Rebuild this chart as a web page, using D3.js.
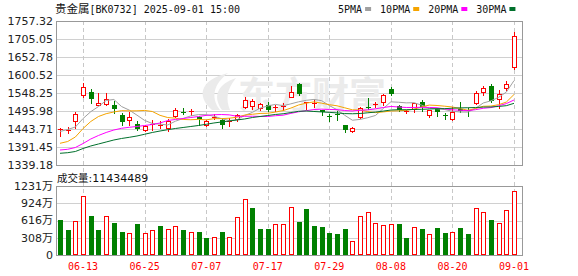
<!DOCTYPE html>
<html>
<head>
<meta charset="utf-8">
<script src="https://cdn.jsdelivr.net/npm/d3@7"></script>
<style>
  body { margin: 0; background: #fff; }
  svg { display: block; }
</style>
</head>
<body>
<svg id="chart" width="578" height="276"></svg>
<script>
// Daily candles, 2025-06-10 .. 2025-09-01
const dates = [
    "06-10", "06-11", "06-12", "06-13", "06-16", "06-17", "06-18", "06-19", "06-20", "06-23",
    "06-24", "06-25", "06-26", "06-27", "06-30", "07-01", "07-02", "07-03", "07-04", "07-07",
    "07-08", "07-09", "07-10", "07-11", "07-14", "07-15", "07-16", "07-17", "07-18", "07-21",
    "07-22", "07-23", "07-24", "07-25", "07-28", "07-29", "07-30", "07-31", "08-01", "08-04",
    "08-05", "08-06", "08-07", "08-08", "08-11", "08-12", "08-13", "08-14", "08-15", "08-18",
    "08-19", "08-20", "08-21", "08-22", "08-25", "08-26", "08-27", "08-28", "08-29", "09-01"
];
const opens = [
    1440, 1440, 1466, 1543, 1551, 1514, 1517, 1514, 1485, 1471,
    1457, 1442, 1455, 1452, 1447, 1482, 1494, 1493, 1480, 1455,
    1477, 1470, 1466, 1472, 1509, 1511, 1505, 1513, 1505, 1508,
    1538, 1573, 1519, 1518, 1498, 1482, 1486, 1455, 1438, 1480,
    1507, 1514, 1522, 1560, 1510, 1493, 1501, 1521, 1483, 1503,
    1485, 1473, 1502, 1500, 1518, 1550, 1569, 1531, 1562, 1625
];
const highs = [
    1447, 1449, 1492, 1577, 1560, 1548, 1548, 1524, 1490, 1492,
    1466, 1456, 1470, 1466, 1474, 1505, 1506, 1502, 1482, 1470,
    1487, 1473, 1476, 1487, 1536, 1530, 1520, 1523, 1512, 1518,
    1569, 1576, 1522, 1530, 1499, 1487, 1495, 1456, 1450, 1509,
    1533, 1522, 1546, 1565, 1512, 1499, 1520, 1528, 1500, 1505,
    1489, 1507, 1523, 1504, 1553, 1569, 1574, 1556, 1583, 1724
];
const lows = [
    1423, 1431, 1446, 1536, 1519, 1512, 1512, 1490, 1456, 1456,
    1440, 1439, 1442, 1447, 1439, 1478, 1488, 1483, 1455, 1452,
    1472, 1448, 1452, 1468, 1504, 1501, 1500, 1497, 1497, 1499,
    1537, 1542, 1501, 1507, 1485, 1466, 1470, 1436, 1436, 1475,
    1501, 1509, 1514, 1543, 1495, 1489, 1494, 1497, 1478, 1482,
    1473, 1469, 1494, 1482, 1516, 1543, 1523, 1504, 1556, 1618
];
const closes = [
    1443, 1442, 1488, 1565, 1532, 1518, 1530, 1502, 1463, 1480,
    1445, 1453, 1457, 1454, 1468, 1500, 1492, 1495, 1473, 1466,
    1479, 1455, 1468, 1484, 1529, 1524, 1516, 1500, 1507, 1510,
    1551, 1545, 1522, 1520, 1492, 1480, 1484, 1442, 1448, 1504,
    1505, 1516, 1542, 1546, 1498, 1496, 1518, 1507, 1499, 1493,
    1484, 1493, 1496, 1498, 1547, 1562, 1525, 1546, 1574, 1714
];

// Volume in 万 and whether the bar is drawn red (1) or green (0)
const volumes = [
    624, 446, 601, 1053, 696, 446, 696, 577, 410, 398,
    553, 398, 446, 517, 464, 517, 446, 416, 410, 298,
    316, 405, 316, 672, 994, 833, 464, 464, 547, 547,
    851, 589, 815, 517, 500, 392, 375, 464, 250, 690,
    762, 565, 530, 553, 553, 303, 494, 464, 375, 482,
    392, 410, 482, 375, 833, 767, 624, 571, 803, 1143.4489
];
const volUp = [
    0, 0, 1, 1, 0, 0, 1, 0, 0, 1,
    0, 1, 1, 0, 1, 1, 0, 1, 0, 0,
    1, 0, 1, 1, 1, 0, 0, 0, 1, 1,
    1, 0, 0, 0, 0, 0, 0, 0, 1, 1,
    1, 1, 1, 1, 0, 0, 1, 0, 1, 0,
    0, 1, 0, 0, 1, 1, 0, 1, 1, 1
];

// MA values before the window is full (they use days before 06-10)
const ma5Head = [1436.5, 1442.3, 1449.5, 1474.2];
const ma10Head = [1402.2, 1407.4, 1420.5, 1445.2, 1465.5, 1480.0, 1488.2, 1493.1, 1496.9];
const ma20Head = [
    1382.7, 1384.8, 1390.0, 1401.6, 1414.7, 1424.9, 1433.6, 1440.8, 1445.8, 1448.7,
    1451.0, 1453.9, 1456.8, 1461.2, 1468.4, 1471.3, 1474.2, 1477.1, 1480.0
];
const ma30Head = [
    1373.2, 1374.9, 1378.4, 1387.1, 1394.4, 1400.2, 1406.0, 1411.8, 1416.2, 1419.6,
    1423.4, 1428.4, 1433.6, 1437.9, 1441.7, 1445.2, 1448.1, 1451.0, 1453.9, 1457.4,
    1461.2, 1464.1, 1467.0, 1469.9, 1472.8, 1477.1, 1480.0, 1482.9, 1485.9
];

const priceTicks = [1757.32, 1705.05, 1652.78, 1600.52, 1548.25, 1495.98, 1443.71, 1391.45, 1339.18];
const volTicks = [1231, 923.25, 615.5, 307.75, 0];
const volTickLabels = ["1231万", "924万", "616万", "308万", "0"];
const tickDates = ["06-13", "06-25", "07-07", "07-17", "07-29", "08-08", "08-20", "09-01"];
const maPeriods = [5, 10, 20, 30];
const maNames = ["5PMA", "10PMA", "20PMA", "30PMA"];
const maHeads = [ma5Head, ma10Head, ma20Head, ma30Head];

const RED = "#ff0000";
const GREEN = "#008000";
const maColors = ["#a0a0a0", "#f5a400", "#ff00ff", "#00702c"];

// layout
const L = 56, R = 522, T = 21, B = 165, VT = 186, VB = 255;

const svg = d3.select("#chart");

const x = d3.scalePoint().domain(dates).range([60, 514]);
const y = d3.scaleLinear().domain([1339.18, 1757.32]).range([B, T]);
const yv = d3.scaleLinear().domain([0, 1231]).range([VB, VT]);

const cx = i => Math.round(x(dates[i]));
const crisp = v => Math.round(v) + 0.5;

/**
 * Moving average: computed from closes once the window is full,
 * before that the value.
 */
function movingAverage(n, head) {
    return closes.map((c, i) => i < n - 1 ? head[i] : d3.mean(closes.slice(i - n + 1, i + 1)));
}

// --- grid ---
const grid = svg.append("g").attr("shape-rendering", "crispEdges");

grid.selectAll(".hgrid")
    .data(priceTicks.slice(1, -1))
    .join("line")
    .attr("x1", L).attr("x2", R)
    .attr("y1", d => crisp(y(d))).attr("y2", d => crisp(y(d)))
    .attr("stroke", "#d0d0d0");

grid.selectAll(".vgrid-h")
    .data(volTicks.slice(1, -1))
    .join("line")
    .attr("x1", L).attr("x2", R)
    .attr("y1", d => crisp(yv(d))).attr("y2", d => crisp(yv(d)))
    .attr("stroke", "#d0d0d0");

grid.selectAll(".vline")
    .data(tickDates)
    .join("line")
    .attr("x1", d => Math.round(x(d)) + 0.5).attr("x2", d => Math.round(x(d)) + 0.5)
    .attr("y1", T).attr("y2", VB)
    .attr("stroke", "#c8c8c8")
    .attr("stroke-dasharray", "4,3");

// watermark
const wm = svg.append("g").attr("fill", "#ebebeb");
wm.append("path")
    .attr("d", "M212,110 C196,96 200,80 228,73 C214,84 210,97 220,110 Z M222,110 C212,96 218,84 236,78 C226,90 226,100 230,110 Z");
wm.append("text")
    .attr("x", 238).attr("y", 109)
    .attr("font-family", "'Noto Sans CJK SC', sans-serif")
    .attr("font-weight", 700)
    .attr("font-size", 37)
    .text("东方财富");

// frames
svg.append("rect")
    .attr("x", L + 0.5).attr("y", T + 0.5)
    .attr("width", R - L).attr("height", B - T)
    .attr("fill", "none").attr("stroke", "#999").attr("shape-rendering", "crispEdges");
svg.append("rect")
    .attr("x", L + 0.5).attr("y", VT + 0.5)
    .attr("width", R - L).attr("height", VB - VT)
    .attr("fill", "none").attr("stroke", "#999").attr("shape-rendering", "crispEdges");

// --- candles ---
const candles = svg.append("g").attr("shape-rendering", "crispEdges");
const idx = d3.range(dates.length);

const candle = candles.selectAll(".candle")
    .data(idx)
    .join("g")
    .attr("class", "candle");

candle.append("line")
    .attr("x1", i => cx(i) + 0.5).attr("x2", i => cx(i) + 0.5)
    .attr("y1", i => Math.round(y(highs[i]))).attr("y2", i => Math.round(y(lows[i])) + 1)
    .attr("stroke", i => closes[i] >= opens[i] ? RED : GREEN);

candle.append("rect")
    .each(function (i) {
        const up = closes[i] >= opens[i];
        const top = Math.round(y(Math.max(opens[i], closes[i])));
        const bot = Math.round(y(Math.min(opens[i], closes[i])));
        const h = Math.max(bot - top, 0);
        const sel = d3.select(this);
        if (up && h >= 2) {
            sel.attr("x", cx(i) - 2 + 0.5).attr("y", top + 0.5)
                .attr("width", 4).attr("height", h)
                .attr("fill", "#fff").attr("stroke", RED);
        } else {
            sel.attr("x", cx(i) - 2).attr("y", top)
                .attr("width", 5).attr("height", Math.max(h, 1))
                .attr("fill", up ? RED : GREEN);
        }
    });

// --- moving averages ---
const line = d3.line()
    .x((d, i) => x(dates[i]))
    .y(d => y(d));

svg.append("g")
    .selectAll("path")
    .data(maPeriods.map((n, k) => movingAverage(n, maHeads[k])))
    .join("path")
    .attr("d", d => line(d))
    .attr("fill", "none")
    .attr("stroke", (d, k) => maColors[k])
    .attr("stroke-width", 1);

// --- volume ---
svg.append("g")
    .attr("shape-rendering", "crispEdges")
    .selectAll("rect")
    .data(idx)
    .join("rect")
    .each(function (i) {
        const top = Math.round(yv(volumes[i]));
        const sel = d3.select(this);
        if (volUp[i]) {
            sel.attr("x", cx(i) - 2 + 0.5).attr("y", top + 0.5)
                .attr("width", 4).attr("height", VB - top - 1)
                .attr("fill", "#fff").attr("stroke", RED);
        } else {
            sel.attr("x", cx(i) - 2).attr("y", top)
                .attr("width", 5).attr("height", VB - top)
                .attr("fill", GREEN);
        }
    });

// --- axis labels ---
const labelFont = "'DejaVu Sans', sans-serif";
svg.append("g")
    .selectAll("text")
    .data(priceTicks)
    .join("text")
    .attr("x", 53).attr("y", d => y(d))
    .attr("dy", "0.36em")
    .attr("text-anchor", "end")
    .attr("font-family", labelFont)
    .attr("font-size", 11)
    .attr("fill", "#222")
    .text(d => d.toFixed(2));

svg.append("g")
    .selectAll("text")
    .data(volTicks)
    .join("text")
    .attr("x", 53).attr("y", d => yv(d))
    .attr("dy", "0.36em")
    .attr("text-anchor", "end")
    .attr("font-family", "'DejaVu Sans', 'Noto Sans CJK SC', sans-serif")
    .attr("font-size", 11)
    .attr("fill", "#222")
    .text((d, k) => volTickLabels[k]);

svg.append("g")
    .selectAll("text")
    .data(tickDates)
    .join("text")
    .attr("x", d => x(d))
    .attr("y", 269.5)
    .attr("text-anchor", "middle")
    .attr("font-family", "'DejaVu Sans Mono', monospace")
    .attr("font-size", 10)
    .attr("fill", RED)
    .text(d => d);

// title
const title = svg.append("text").attr("x", 55).attr("y", 13).attr("fill", "#111");
title.append("tspan")
    .attr("font-family", "'Noto Sans CJK SC', sans-serif").attr("font-size", 11.5)
    .text("贵金属");
title.append("tspan")
    .attr("font-family", "'DejaVu Sans Mono', monospace").attr("font-size", 10)
    .text("[BK0732] 2025-09-01 15:00");

// volume caption
const vcap = svg.append("text").attr("x", 57).attr("y", 181.5).attr("fill", "#111");
vcap.append("tspan")
    .attr("font-family", "'Noto Sans CJK SC', sans-serif").attr("font-size", 10.5)
    .text("成交量");
vcap.append("tspan")
    .attr("font-family", labelFont).attr("font-size", 11)
    .text(":" + Math.round(volumes[volumes.length - 1] * 10000));

// legend
const legend = svg.append("g");
let lx = 338;
maNames.forEach((name, k) => {
    const t = legend.append("text")
        .attr("x", lx).attr("y", 12.5)
        .attr("font-family", "'DejaVu Sans Mono', monospace")
        .attr("font-size", 10)
        .attr("fill", "#111")
        .text(name);
    lx += t.node().getComputedTextLength() + 3;
    legend.append("rect")
        .attr("x", lx).attr("y", 7)
        .attr("width", 6).attr("height", 4)
        .attr("fill", maColors[k]);
    lx += 6 + 9;
});
</script>
</body>
</html>
